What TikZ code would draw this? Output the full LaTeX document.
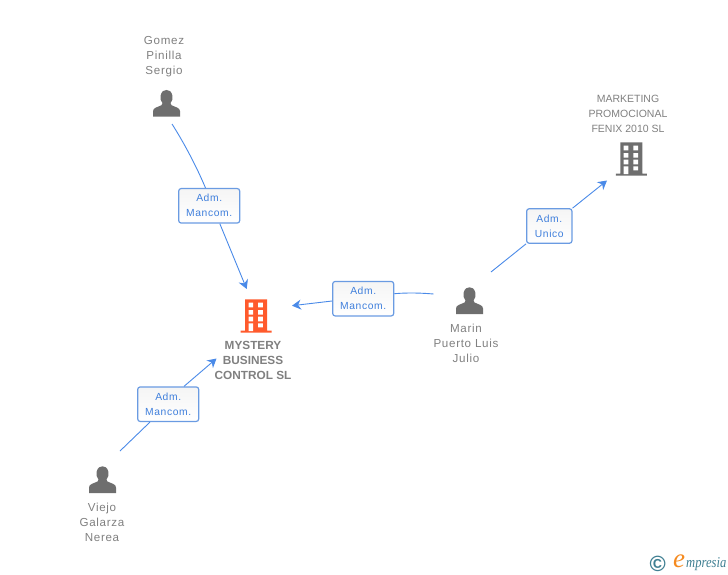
\documentclass[tikz,border=0pt]{standalone}
\usepackage{fontspec}
\setmainfont{Liberation Sans}
\newfontfamily\spaced[LetterSpace=6]{Liberation Sans}
\newfontfamily\logofont{Liberation Serif}
\usetikzlibrary{arrows.meta}
\definecolor{linkblue}{HTML}{4A8AE8}
\definecolor{boxedge}{HTML}{6A9BE2}
\definecolor{boxtext}{HTML}{3F7FDC}
\definecolor{txtgrey}{HTML}{808080}
\definecolor{icongrey}{HTML}{6E6E6E}
\definecolor{orangered}{HTML}{FF5A2C}
\definecolor{logoteal}{HTML}{3F7F92}
\definecolor{logoorange}{HTML}{F58A1F}
\tikzset{
  x=1pt,y=-1pt,
  role/.style={draw=boxedge,line width=1.2pt,rounded corners=2.5pt,top color=gray!8,bottom color=white,
    minimum width=61pt,minimum height=34.5pt,inner sep=0pt,text=boxtext,align=center,
    font=\spaced\fontsize{10.3}{15}\selectfont},
  label/.style={text=txtgrey,align=center,inner sep=0pt,font=\spaced\fontsize{11.6}{15}\selectfont},
  anchorbox/.style={inner sep=0pt,minimum width=28pt,minimum height=27pt},
  link/.style={draw=linkblue,line width=0.9pt},
  tip/.style={link,-{Stealth[length=9pt,width=10pt]}},
  person/.pic={
    \fill[icongrey] (0,0) -- (-13.5,0) -- (-13.5,-5.5) .. controls (-13.5,-9) and (-9,-9.5) .. (-5,-11.5)
      -- (-4,-13.5) .. controls (-6,-15.5) and (-6.2,-18) .. (-5.8,-21.5)
      .. controls (-5,-25.7) and (-2,-26.7) .. (0,-26.7) .. controls (2,-26.7) and (5,-25.7) .. (5.8,-21.5)
      .. controls (6.2,-18) and (6,-15.5) .. (4,-13.5) -- (5,-11.5)
      .. controls (9,-9.5) and (13.5,-9) .. (13.5,-5.5) -- (13.5,0) -- cycle;
  },
  pics/tower/.style={code={
    \fill[#1] (-15.5,0) rectangle (15.5,-2) (-11,-1) rectangle (11,-33.4);
    \fill[white]
      (-7.7,-30.1) rectangle (-3,-25.4) (2,-30.1) rectangle (6.7,-25.4)
      (-7.7,-22.7) rectangle (-3,-18.1) (2,-22.7) rectangle (6.7,-18.1)
      (-7.7,-16.1) rectangle (-3,-11.4) (2,-16.1) rectangle (6.7,-11.4)
      (-7.7,-9.4) rectangle (-3,-1.7) (2,-9.4) rectangle (6.7,-5.4);
  }},
}
\begin{document}
\begin{tikzpicture}
\useasboundingbox (0,0) rectangle (728,575);
% icons
\pic at (166.5,116.7) {person};
\pic at (102.5,493) {person};
\pic at (469.5,314) {person};
\pic at (256.2,332.7) {tower=orangered};
\pic at (631.3,175.7) {tower=icongrey};
% anchors
\node[anchorbox] (gomez) at (166.5,103) {};
\node[anchorbox] (viejo) at (102.5,480) {};
\node[anchorbox] (marin) at (469.5,301) {};
\node[anchorbox] (mystery) at (256,316) {};
\node[anchorbox] (fenix) at (631,159) {};
% free ends of the connectors
\coordinate (gomezEnd) at (172,124);
\coordinate (viejoEnd) at (120,451);
\coordinate (marinW) at (433.5,294);
\coordinate (marinNE) at (491,272);
\coordinate (mysteryN) at (246.7,289);
\coordinate (mysteryE) at (292,305.7);
\coordinate (mysterySW) at (216.5,358.5);
\coordinate (fenixSW) at (607,180.5);
% labels
\node[label] at (164,57) {Gomez\\Pinilla\\Sergio};
\node[label] at (102,522) {Viejo\\Galarza\\Nerea};
\node[label] at (466,343) {Marin\\Puerto Luis\\Julio};
\node[label,font=\fontsize{10.5}{15}\selectfont] at (628,113.5) {MARKETING\\PROMOCIONAL\\FENIX 2010 SL};
\node[label,font=\bfseries\fontsize{11.8}{15}\selectfont] at (253,360) {MYSTERY\\BUSINESS\\CONTROL SL};
% role boxes
\node[role] (r1) at (209.2,205.8) {Adm.\\Mancom.};
\node[role] (r2) at (363.2,298.7) {Adm.\\Mancom.};
\node[role] (r3) at (168.2,404.2) {Adm.\\Mancom.};
\node[role,minimum width=45.3pt] (r4) at (549.3,226) {Adm.\\Unico};
% connectors
\draw[link] (gomezEnd) .. controls (186,146) and (198,170) .. (r1.north -| 205.5,0);
\draw[tip] (r1.south -| 219.8,0) -- (mysteryN);
\draw[link] (r2.east |- 0,293.7) .. controls (408,292.5) and (422,293) .. (marinW);
\draw[tip] (r2.west |- 0,301) -- (mysteryE);
\draw[link] (viejoEnd) -- (r3.south -| 150,0);
\draw[tip] (r3.north -| 184,0) -- (mysterySW);
\draw[link] (marinNE) -- (r4.south west);
\draw[tip] (r4.north east) -- (fenixSW);
% logo
\node[text=logoteal,font=\bfseries\fontsize{22}{22}\selectfont,inner sep=0pt] (copy) at (657.7,564) {©};
\node[text=logoorange,font=\logofont\itshape\fontsize{27}{27}\selectfont,inner sep=0pt] (elogo) at (679,561.5) {e};
\node[text=logoteal,font=\logofont\itshape\fontsize{15}{15}\selectfont,inner sep=0pt,anchor=west,xscale=0.84] (word) at (686,564) {mpresia};
\end{tikzpicture}
\end{document}
